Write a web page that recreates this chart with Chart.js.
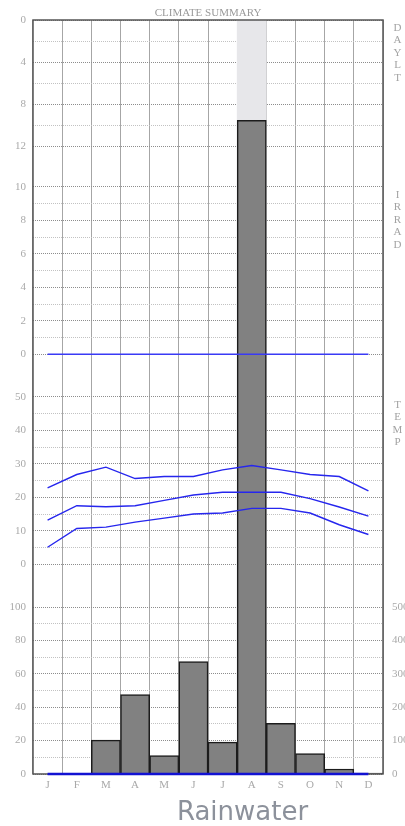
<!DOCTYPE html>
<html><head><meta charset="utf-8">
<script src="https://cdn.jsdelivr.net/npm/chart.js@4/dist/chart.umd.min.js"></script>
<style>html,body{margin:0;padding:0;background:#fff;overflow:hidden}#wrap{position:relative;width:405px;height:826px}</style>
</head><body><div id="wrap"><canvas id="c"></canvas></div>
<script>
// ---- data ----
const months = ['J','F','M','A','M','J','J','A','S','O','N','D'];
const rainfall = [0, 0, 20.3, 47.6, 11.1, 67.3, 19.1, 391.4, 30.4, 12.3, 3.0, 0.6];
const rainRight = [0,0,0,0,0,0,0,0,0,0,0,0];
const irradiance = [0,0,0,0,0,0,0,0,0,0,0,0];
const tempMax  = [22.8, 26.8, 29.0, 25.6, 26.2, 26.2, 28.2, 29.5, 28.2, 26.8, 26.2, 21.9];
const tempMean = [13.2, 17.5, 17.2, 17.5, 19.1, 20.7, 21.5, 21.5, 21.5, 19.6, 17.1, 14.4];
const tempMin  = [5.1, 10.7, 11.1, 12.6, 13.8, 15.0, 15.3, 16.7, 16.7, 15.3, 11.8, 8.9];
const highlight = [0,0,0,0,0,0,0,1,0,0,0,0];

const dayGrid = [0,2,4,6,8,10,12];          const dayLabels = [0,4,8,12];
const irrGrid = [0,1,2,3,4,5,6,7,8,9,10];   const irrLabels = [0,2,4,6,8,10];
const tempGrid = [0,5,10,15,20,25,30,35,40,45,50]; const tempLabels = [0,10,20,30,40,50];
const rainGrid = [0,10,20,30,40,50,60,70,80,90,100]; const rainLabels = [0,20,40,60,80,100];
const rainRLabels = [0,100,200,300,400,500];
const sectionLabels = ['DAYLT','IRRAD','TEMP'];
const sectionAxes = ['yDay','yIrr','yTemp'];
const sectionAnchors = [0, 10, 50];
const title = 'CLIMATE SUMMARY';
const xTitle = 'Rainwater';

// ---- styling ----
const serif = '"Liberation Serif","Times New Roman",serif';
const tickFont = {family: serif, size: 11};
const tickColor = '#a9a9a9';

function yScale(o) {
  const grid = o.grid, labels = o.labels;
  return {
    type: 'linear', position: 'left', stack: 'left', stackWeight: o.sw, weight: o.weight,
    reverse: !!o.reverse, min: o.min, max: o.max, display: true,
    afterBuildTicks: s => { s.ticks = grid.map(v => ({value: v})); },
    afterFit: s => { s.width = 33; },
    ticks: { autoSkip: false, font: tickFont, color: tickColor, padding: 7,
      callback: v => labels.includes(v) ? String(v) : '' },
    grid: { drawTicks: false, lineWidth: 1,
      color: c => (c.tick && labels.includes(c.tick.value)) ? '#8d8d8d' : '#c2c2c2' },
    border: { display: false, dash: [1, 1] }
  };
}

const frame = {
  id: 'frame',
  afterDatasetDraw(chart, args) {
    if (args.meta.type !== 'bar' || args.meta.label !== 'Rain') return;
    const {ctx, chartArea: a} = chart;
    ctx.save();
    ctx.strokeStyle = '#555';
    ctx.lineWidth = 1.5;
    ctx.strokeRect(a.left, a.top, a.right - a.left, a.bottom - a.top);
    ctx.restore();
  },
  afterDraw(chart) {
    const {ctx, chartArea: a} = chart;
    ctx.save();
    ctx.fillStyle = '#a3a3a3';
    ctx.font = '11px ' + serif;
    ctx.textAlign = 'center';
    ctx.textBaseline = 'middle';
    sectionLabels.forEach((lab, i) => {
      const y0 = chart.scales[sectionAxes[i]].getPixelForValue(sectionAnchors[i]) + 8;
      [...lab].forEach((ch, j) => ctx.fillText(ch, a.right + 14.5, y0 + j * 12.5));
    });
    ctx.fillStyle = '#8c919b';
    ctx.font = '26px "DejaVu Sans", sans-serif';
    ctx.textBaseline = 'alphabetic';
    ctx.fillText(xTitle, 242.5, 820);
    ctx.restore();
  }
};

new Chart(document.getElementById('c'), {
  data: {
    labels: months,
    datasets: [
      {type: 'line', label: 'Tmax', data: tempMax, yAxisID: 'yTemp', borderColor: '#2626ee', borderWidth: 1.4, pointRadius: 0, order: 0},
      {type: 'line', label: 'Tmean', data: tempMean, yAxisID: 'yTemp', borderColor: '#2626ee', borderWidth: 1.4, pointRadius: 0, order: 0},
      {type: 'line', label: 'Tmin', data: tempMin, yAxisID: 'yTemp', borderColor: '#2626ee', borderWidth: 1.4, pointRadius: 0, order: 0},
      {type: 'line', label: 'Irrad', data: irradiance, yAxisID: 'yIrr', borderColor: '#3a3af5', borderWidth: 1.5, pointRadius: 0, order: 0, clip: false},
      {type: 'line', label: 'RainR', data: rainRight, yAxisID: 'yRainR', borderColor: '#1212d2', borderWidth: 2.5, pointRadius: 0, order: 0, clip: false},
      {type: 'bar', label: 'Rain', data: rainfall, yAxisID: 'yRainFull', backgroundColor: '#818181', borderColor: '#1c1c1c', borderWidth: 1.5,
        categoryPercentage: 1, barPercentage: 1, grouped: false, order: 2},
      {type: 'bar', label: 'Highlight', data: highlight, yAxisID: 'yHl', backgroundColor: '#e7e7ea', borderWidth: 0,
        categoryPercentage: 1, barPercentage: 1, grouped: false, order: 5}
    ]
  },
  options: {
    responsive: true, maintainAspectRatio: false, animation: false,
    layout: {padding: {left: 0, right: 0, top: 0, bottom: 32}},
    plugins: {
      legend: {display: false}, tooltip: {enabled: false},
      title: {display: true, text: title, fullSize: false, color: '#9a9a9a',
        font: {family: serif, size: 11, weight: 'normal', lineHeight: '14px'}, padding: {top: 6, bottom: 0}}
    },
    scales: {
      x: {type: 'category', offset: true,
        afterFit: s => { s.height = 20; },
        grid: {offset: true, drawTicks: false, color: '#a6a6a6', lineWidth: 1},
        border: {display: false},
        ticks: {font: tickFont, color: tickColor, padding: 5, autoSkip: false, maxRotation: 0}},
      yDay:  yScale({weight: 4, sw: 140, reverse: true, min: 0, max: 13.333, grid: dayGrid, labels: dayLabels}),
      yIrr:  yScale({weight: 3, sw: 215, min: -1.236, max: 11.6, grid: irrGrid, labels: irrLabels}),
      yTemp: yScale({weight: 2, sw: 215, min: -7.672, max: 56.51, grid: tempGrid, labels: tempLabels}),
      yRain: yScale({weight: 1, sw: 184, min: 0, max: 110.18, grid: rainGrid, labels: rainLabels}),
      yRainR: {type: 'linear', position: 'right', weight: 10, min: 0, max: 2257.5,
        afterBuildTicks: s => { s.ticks = rainRLabels.map(v => ({value: v})); },
        afterFit: s => { s.width = 22; },
        ticks: {autoSkip: false, font: tickFont, color: tickColor, padding: 9},
        grid: {drawOnChartArea: false, drawTicks: false},
        border: {display: false}},
      yRainFull: {type: 'linear', display: false, position: 'right', min: 0, max: 451.5},
      yHl: {type: 'linear', display: false, position: 'right', min: 0, max: 1}
    }
  },
  plugins: [frame]
});
</script></body></html>
